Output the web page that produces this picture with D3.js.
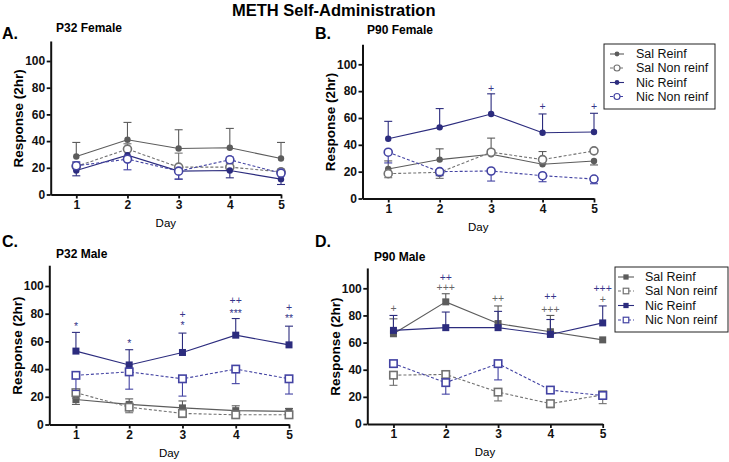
<!DOCTYPE html>
<html>
<head>
<meta charset="utf-8">
<script src="https://cdn.jsdelivr.net/npm/d3@7"></script>
<style>
  html, body { margin: 0; padding: 0; background: #fff; }
  svg { display: block; font-family: "Liberation Sans", Arial, Helvetica, sans-serif; }
</style>
</head>
<body>
<svg id="chart" width="729" height="462"></svg>
<script>
// ---------------- DATA ----------------
const days = [1, 2, 3, 4, 5];
const yTicks = [0, 20, 40, 60, 80, 100];
const seriesNames = ["Sal Reinf", "Sal Non reinf", "Nic Reinf", "Nic Non reinf"];
const panelTitles = ["P32 Female", "P90 Female", "P32 Male", "P90 Male"];
const panelLetters = ["A.", "B.", "C.", "D."];

// error values: positive = bar drawn upward, negative = downward
// A. P32 Female
const p32F_salReinf    = [28.5, 41, 34.5, 35, 27];
const p32F_salReinfErr = [10.5, 13, 14, 14.5, 12];
const p32F_salNon      = [21, 34, 20.5, 20.5, 17];
const p32F_salNonErr   = [3, 4, 10.5, 3, 2];
const p32F_nicReinf    = [18, 29.5, 17.5, 18, 11.5];
const p32F_nicReinfErr = [-4, -3, -6, -5.5, -4];
const p32F_nicNon      = [21.5, 26.5, 17.5, 26, 16];
const p32F_nicNonErr   = [3, -8, -6, 2, -2];

// B. P90 Female
const p90F_salReinf    = [22, 29, 33, 25.5, 28];
const p90F_salReinfErr = [6, 8, 12, 9.5, -3];
const p90F_salNon      = [18.5, 19.5, 34.5, 29, 35.5];
const p90F_salNonErr   = [-3, -4.5, 2, -3, 1];
const p90F_nicReinf    = [44.5, 53, 63, 49, 49.5];
const p90F_nicReinfErr = [13, 14, 15, 14, 14];
const p90F_nicNon      = [34.5, 20, 20.5, 17, 14.5];
const p90F_nicNonErr   = [-8, -3, -7.5, -4.5, -3.5];

// C. P32 Male
const p32M_salReinf    = [18, 14.5, 12, 10, 9.5];
const p32M_salReinfErr = [-3.5, 4, 5, 3.5, 2];
const p32M_salNon      = [23, 12.5, 8, 7, 7];
const p32M_salNonErr   = [-4, -4, -3, -2, -2];
const p32M_nicReinf    = [53, 43, 52, 64.5, 57.5];
const p32M_nicReinfErr = [13.5, 11, 14, 12, 13.5];
const p32M_nicNon      = [35.5, 38, 33, 40, 33];
const p32M_nicNonErr   = [-11, -12.5, -12.5, -10.5, -11];

// D. P90 Male
const p90M_salReinf    = [66.5, 90, 74, 68, 62];
const p90M_salReinfErr = [11, 6, 13, 12, 0];
const p90M_salNon      = [36, 36.5, 23.5, 15, 21.5];
const p90M_salNonErr   = [-7.5, 2, -6.5, -3, -6.5];
const p90M_nicReinf    = [69, 71, 71, 66, 74.5];
const p90M_nicReinfErr = [11, 11.5, 12, 11, 12.5];
const p90M_nicNon      = [44.5, 30.5, 44.5, 25, 21];
const p90M_nicNonErr   = [1.5, -8.5, -12, 1, -1];

// significance marks: [day, label, height in response units, group]
const p90F_marks = [[3, "+", 82.5, "nic"], [4, "+", 68.5, "nic"], [5, "+", 68.5, "nic"]];
const p32M_marks = [[1, "*", 71, "nic"], [2, "*", 58.5, "nic"], [3, "+", 79.5, "nic"], [3, "*", 71.5, "nic"],
                    [4, "++", 89.5, "nic"], [4, "***", 80.5, "nic"], [5, "+", 85, "nic"], [5, "**", 77, "nic"]];
const p90M_marks = [[1, "+", 85.5, "sal"], [2, "++", 108.5, "nic"], [2, "+++", 100.5, "sal"],
                    [3, "++", 92.5, "sal"], [4, "++", 94, "nic"], [4, "+++", 84.5, "sal"],
                    [5, "+++", 100, "nic"], [5, "+", 92, "sal"]];

// ---------------- STYLE / LAYOUT ----------------
const seriesStyle = [
  { color: "#5c5c5c", dash: null,  filled: true  },
  { color: "#727272", dash: "3,2", filled: false },
  { color: "#2c2c7e", dash: null,  filled: true  },
  { color: "#4343a3", dash: "3,2", filled: false }
];
const markColor = { sal: "#666666", nic: "#35358a" };

const panels = [
  { letter: 0, title: 0, shape: "circle", axisX: 50.7, day5X: 281, y0: 194.5, y100: 61,
    letterPos: [2, 39], titlePos: [56, 32],
    series: [[p32F_salReinf, p32F_salReinfErr], [p32F_salNon, p32F_salNonErr], [p32F_nicReinf, p32F_nicReinfErr], [p32F_nicNon, p32F_nicNonErr]],
    marks: [], legend: null },
  { letter: 1, title: 1, shape: "circle", axisX: 362.5, day5X: 594, y0: 198.5, y100: 64.3,
    letterPos: [315, 39], titlePos: [367, 34],
    series: [[p90F_salReinf, p90F_salReinfErr], [p90F_salNon, p90F_salNonErr], [p90F_nicReinf, p90F_nicReinfErr], [p90F_nicNon, p90F_nicNonErr]],
    marks: p90F_marks, legend: { x: 604, y: 44, w: 111, h: 65, rows: [54, 68, 82.5, 96.5], sx: 610, sw: 14, tx: 636 } },
  { letter: 2, title: 2, shape: "square", axisX: 49.3, day5X: 289, y0: 424.5, y100: 286,
    letterPos: [2, 247], titlePos: [56, 258],
    series: [[p32M_salReinf, p32M_salReinfErr], [p32M_salNon, p32M_salNonErr], [p32M_nicReinf, p32M_nicReinfErr], [p32M_nicNon, p32M_nicNonErr]],
    marks: p32M_marks, legend: null },
  { letter: 3, title: 3, shape: "square", axisX: 367.3, day5X: 602.7, y0: 424, y100: 288.3,
    letterPos: [315, 247], titlePos: [374, 261],
    series: [[p90M_salReinf, p90M_salReinfErr], [p90M_salNon, p90M_salNonErr], [p90M_nicReinf, p90M_nicReinfErr], [p90M_nicNon, p90M_nicNonErr]],
    marks: p90M_marks, legend: { x: 615, y: 267, w: 113, h: 65, rows: [277, 291, 305.5, 320], sx: 618, sw: 16, tx: 645 } }
];

const svg = d3.select("#chart");

svg.append("text")
  .attr("x", 232).attr("y", 16)
  .attr("font-size", 16.5).attr("font-weight", "bold")
  .text("METH Self-Administration");

function drawMarker(g, shape, x, y, st, k) {
  k = k || 1;
  if (shape === "circle") {
    if (st.filled) {
      g.append("circle").attr("cx", x).attr("cy", y).attr("r", 3.2 * k).attr("fill", st.color);
    } else {
      g.append("circle").attr("cx", x).attr("cy", y).attr("r", 4 * k)
        .attr("fill", "#fff").attr("stroke", st.color).attr("stroke-width", 1.6 * k);
    }
  } else {
    if (st.filled) {
      const h = 3.5 * k;
      g.append("rect").attr("x", x - h).attr("y", y - h).attr("width", 2 * h).attr("height", 2 * h).attr("fill", st.color);
    } else {
      const h = 3.7 * k;
      g.append("rect").attr("x", x - h).attr("y", y - h).attr("width", 2 * h).attr("height", 2 * h)
        .attr("fill", "#fff").attr("stroke", st.color).attr("stroke-width", 1.6 * k);
    }
  }
}

panels.forEach(p => {
  const unit = (p.y0 - p.y100) / 100;
  const x = d3.scaleLinear().domain([0.5, 5]).range([p.axisX, p.day5X]);
  const y = d3.scaleLinear().domain([0, 115]).range([p.y0, p.y0 - 115 * unit]);
  const g = svg.append("g");

  // letter & title
  g.append("text").attr("x", p.letterPos[0]).attr("y", p.letterPos[1])
    .attr("font-size", 16).attr("font-weight", "bold").text(panelLetters[p.letter]);
  g.append("text").attr("x", p.titlePos[0]).attr("y", p.titlePos[1])
    .attr("font-size", 12).attr("font-weight", "bold").text(panelTitles[p.title]);

  // axes
  const yAxis = g.append("g").attr("transform", `translate(${p.axisX},0)`)
    .call(d3.axisLeft(y).tickValues(yTicks).tickSize(4).tickSizeOuter(0).tickPadding(1.5));
  const xAxis = g.append("g").attr("transform", `translate(0,${p.y0})`)
    .call(d3.axisBottom(x).tickValues(days).tickFormat(d3.format("d")).tickSize(4).tickSizeOuter(0).tickPadding(1.5));
  [yAxis, xAxis].forEach(ax => {
    ax.select(".domain").attr("stroke", "#111").attr("stroke-width", 2);
    ax.selectAll(".tick line").attr("stroke", "#111").attr("stroke-width", 1.8);
    ax.selectAll(".tick text").attr("fill", "#111").attr("font-size", 12)
      .attr("font-weight", "bold").attr("font-family", "Liberation Sans, Arial, sans-serif");
  });

  g.append("text")
    .attr("transform", `translate(${p.axisX - 32},${y(57)}) rotate(-90)`)
    .attr("text-anchor", "middle").attr("dominant-baseline", "central")
    .attr("font-size", 13.5).attr("font-weight", "bold").text("Response (2hr)");
  g.append("text")
    .attr("x", (p.axisX + p.day5X) / 2).attr("y", p.y0 + 28)
    .attr("text-anchor", "middle").attr("dominant-baseline", "central")
    .attr("font-size", 11.5).text("Day");

  // series
  p.series.forEach((s, si) => {
    const st = seriesStyle[si];
    const vals = s[0], errs = s[1];
    const sg = g.append("g");
    days.forEach((d, i) => {
      if (!errs[i]) return;
      const yv = y(vals[i]), ye = y(vals[i] + errs[i]);
      sg.append("line").attr("x1", x(d)).attr("x2", x(d)).attr("y1", yv).attr("y2", ye)
        .attr("stroke", st.color).attr("stroke-width", 1.1);
      sg.append("line").attr("x1", x(d) - 4).attr("x2", x(d) + 4).attr("y1", ye).attr("y2", ye)
        .attr("stroke", st.color).attr("stroke-width", 1.1);
    });
    const line = d3.line().x((v, i) => x(days[i])).y(v => y(v));
    sg.append("path").attr("d", line(vals)).attr("fill", "none")
      .attr("stroke", st.color).attr("stroke-width", 1.1)
      .attr("stroke-dasharray", st.dash);
    days.forEach((d, i) => drawMarker(sg, p.shape, x(d), y(vals[i]), st));
  });

  // significance marks: one text per day, stacked lines as tspans
  const byDay = d3.group(p.marks, m => m[0]);
  byDay.forEach((ms, day) => {
    const t = g.append("text").attr("text-anchor", "middle").attr("font-size", 10.5);
    ms.forEach(m => {
      t.append("tspan").attr("x", x(day)).attr("y", y(m[2]) + 3.8)
        .attr("fill", markColor[m[3]]).text(m[1]);
    });
  });

  // legend
  if (p.legend) {
    const L = p.legend;
    const lg = g.append("g");
    lg.append("rect").attr("x", L.x).attr("y", L.y).attr("width", L.w).attr("height", L.h)
      .attr("fill", "#fff").attr("stroke", "#222").attr("stroke-width", 1);
    seriesNames.forEach((name, si) => {
      const st = seriesStyle[si];
      const ry = L.rows[si];
      lg.append("line").attr("x1", L.sx).attr("x2", L.sx + L.sw).attr("y1", ry).attr("y2", ry)
        .attr("stroke", st.color).attr("stroke-width", 1.1).attr("stroke-dasharray", st.dash);
      drawMarker(lg, p.shape, L.sx + L.sw / 2, ry, st, 0.75);
      lg.append("text").attr("x", L.tx).attr("y", ry).attr("dominant-baseline", "central")
        .attr("font-size", 12.5).attr("fill", "#111").text(name);
    });
  }
});
</script>
</body>
</html>
